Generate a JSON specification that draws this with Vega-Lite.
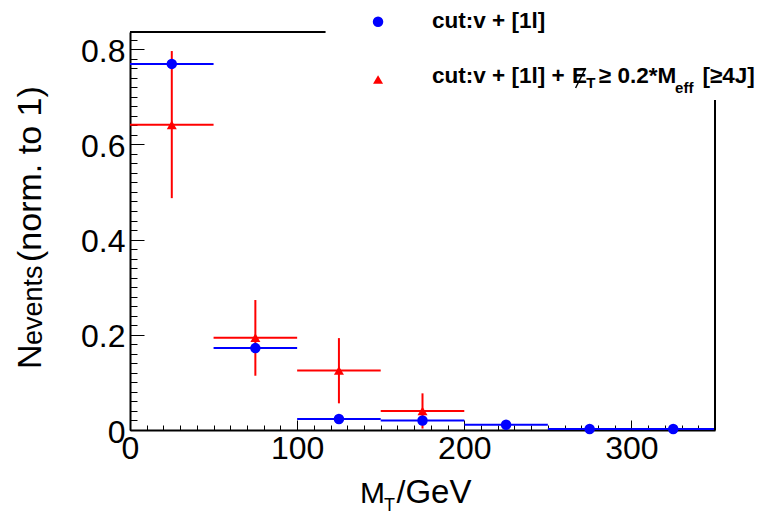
{
  "$schema": "https://vega.github.io/schema/vega-lite/v6.json",
  "width": 585,
  "height": 398,
  "autosize": {"type": "none"},
  "padding": {"left": 130, "top": 32, "right": 45, "bottom": 87},
  "background": "white",
  "config": {"view": {"stroke": null}, "font": "Liberation Sans", "axis": {"grid": false}},
  "datasets": {
    "blue": [
      {"lo": 0, "hi": 50, "mid": 25, "val": 0.769},
      {"lo": 50, "hi": 100, "mid": 75, "val": 0.172},
      {"lo": 100, "hi": 150, "mid": 125, "val": 0.023},
      {"lo": 150, "hi": 200, "mid": 175, "val": 0.020},
      {"lo": 200, "hi": 250, "mid": 225, "val": 0.011},
      {"lo": 250, "hi": 300, "mid": 275, "val": 0.002},
      {"lo": 300, "hi": 350, "mid": 325, "val": 0.002}
    ],
    "red": [
      {"lo": 0, "hi": 50, "mid": 25, "val": 0.641, "errLo": 0.487, "errHi": 0.796},
      {"lo": 50, "hi": 100, "mid": 75, "val": 0.194, "errLo": 0.114, "errHi": 0.273},
      {"lo": 100, "hi": 150, "mid": 125, "val": 0.125, "errLo": 0.056, "errHi": 0.193},
      {"lo": 150, "hi": 200, "mid": 175, "val": 0.040, "errLo": 0.003, "errHi": 0.077}
    ],
    "one": [{}]
  },
  "resolve": {"axis": {"x": "independent", "y": "independent"}},
  "layer": [
    {
      "data": {"name": "blue"},
      "mark": {"type": "rule", "color": "#0000ff", "strokeWidth": 2},
      "encoding": {
        "x": {"field": "lo", "type": "quantitative", "scale": {"domain": [0, 350], "nice": false, "zero": false},
          "axis": {"orient": "bottom", "values": [0, 100, 200, 300], "ticks": false, "domain": true, "domainColor": "black", "domainWidth": 2, "labelFontSize": 32, "labelColor": "black", "labelPadding": 3, "labelBaseline": "top", "labelFlush": false, "labelOverlap": false, "title": null}},
        "x2": {"field": "hi"},
        "y": {"field": "val", "type": "quantitative", "scale": {"domain": [0, 0.836], "nice": false, "zero": false},
          "axis": {"orient": "left", "values": [0, 0.2, 0.4, 0.6, 0.8], "format": "~g", "ticks": false, "domain": true, "domainColor": "black", "domainWidth": 2, "labelFontSize": 32, "labelColor": "black", "labelPadding": 5, "labelOffset": 2, "labelFlush": false, "labelOverlap": false, "title": null}}
      }
    },
    {
      "data": {"name": "red"},
      "mark": {"type": "rule", "color": "#ff0000", "strokeWidth": 2},
      "encoding": {
        "x": {"field": "lo", "type": "quantitative", "scale": {"domain": [0, 350], "nice": false, "zero": false},
          "axis": {"orient": "bottom", "values": [0, 100, 200, 300], "labels": false, "domain": false, "ticks": true, "tickSize": -10, "tickColor": "black", "tickWidth": 1, "title": null}},
        "x2": {"field": "hi"},
        "y": {"field": "val", "type": "quantitative", "scale": {"domain": [0, 0.836], "nice": false, "zero": false},
          "axis": {"orient": "left", "values": [0, 0.2, 0.4, 0.6, 0.8], "labels": false, "domain": false, "ticks": true, "tickSize": -14, "tickColor": "black", "tickWidth": 1, "title": null}}
      }
    },
    {
      "data": {"name": "red"},
      "mark": {"type": "rule", "color": "#ff0000", "strokeWidth": 2},
      "encoding": {
        "x": {"field": "mid", "type": "quantitative", "scale": {"domain": [0, 350], "nice": false, "zero": false},
          "axis": {"orient": "bottom", "values": [0,10,20,30,40,50,60,70,80,90,100,110,120,130,140,150,160,170,180,190,200,210,220,230,240,250,260,270,280,290,300,310,320,330,340,350], "labels": false, "domain": false, "ticks": true, "tickSize": -5, "tickColor": "black", "tickWidth": 1, "title": null}},
        "y": {"field": "errLo", "type": "quantitative", "scale": {"domain": [0, 0.836], "nice": false, "zero": false},
          "axis": {"orient": "left", "values": [0,0.02,0.04,0.06,0.08,0.1,0.12,0.14,0.16,0.18,0.2,0.22,0.24,0.26,0.28,0.3,0.32,0.34,0.36,0.38,0.4,0.42,0.44,0.46,0.48,0.5,0.52,0.54,0.56,0.58,0.6,0.62,0.64,0.66,0.68,0.7,0.72,0.74,0.76,0.78,0.8,0.82], "labels": false, "domain": false, "ticks": true, "tickSize": -7, "tickColor": "black", "tickWidth": 1, "title": null}},
        "y2": {"field": "errHi"}
      }
    },
    {
      "data": {"name": "blue"},
      "mark": {"type": "point", "shape": "circle", "filled": true, "color": "#0000ff", "size": 110, "opacity": 1},
      "encoding": {
        "x": {"field": "mid", "type": "quantitative", "scale": {"domain": [0, 350], "nice": false, "zero": false}, "axis": null},
        "y": {"field": "val", "type": "quantitative", "scale": {"domain": [0, 0.836], "nice": false, "zero": false}, "axis": null}
      }
    },
    {
      "data": {"name": "red"},
      "mark": {"type": "point", "shape": "triangle-up", "filled": true, "color": "#ff0000", "size": 100, "opacity": 1},
      "encoding": {
        "x": {"field": "mid", "type": "quantitative", "scale": {"domain": [0, 350], "nice": false, "zero": false}, "axis": null},
        "y": {"field": "val", "type": "quantitative", "scale": {"domain": [0, 0.836], "nice": false, "zero": false}, "axis": null}
      }
    },
    {
      "data": {"name": "one"},
      "mark": {"type": "rule", "color": "black", "strokeWidth": 2},
      "encoding": {
        "x": {"datum": 0, "type": "quantitative", "scale": {"domain": [0, 350], "nice": false, "zero": false}, "axis": null},
        "x2": {"datum": 117},
        "y": {"datum": 0.836, "type": "quantitative", "scale": {"domain": [0, 0.836], "nice": false, "zero": false}, "axis": null}
      }
    },
    {
      "data": {"name": "one"},
      "mark": {"type": "rule", "color": "black", "strokeWidth": 2},
      "encoding": {
        "x": {"datum": 350, "type": "quantitative", "scale": {"domain": [0, 350], "nice": false, "zero": false}, "axis": null},
        "y": {"datum": 0, "type": "quantitative", "scale": {"domain": [0, 0.836], "nice": false, "zero": false}, "axis": null},
        "y2": {"datum": 0.693}
      }
    },
    {
      "data": {"name": "one"},
      "mark": {"type": "text", "text": "M", "fontSize": 30, "align": "left", "baseline": "alphabetic", "color": "black"},
      "encoding": {
        "x": {"datum": 137.6, "type": "quantitative", "scale": {"domain": [0, 350], "nice": false, "zero": false}, "axis": null},
        "y": {"datum": -0.1533, "type": "quantitative", "scale": {"domain": [0, 0.836], "nice": false, "zero": false}, "axis": null}
      }
    },
    {
      "data": {"name": "one"},
      "mark": {"type": "text", "text": "T", "fontSize": 18, "align": "left", "baseline": "alphabetic", "color": "black"},
      "encoding": {
        "x": {"datum": 152.0, "type": "quantitative", "scale": {"domain": [0, 350], "nice": false, "zero": false}, "axis": null},
        "y": {"datum": -0.1701, "type": "quantitative", "scale": {"domain": [0, 0.836], "nice": false, "zero": false}, "axis": null}
      }
    },
    {
      "data": {"name": "one"},
      "mark": {"type": "text", "text": "/", "fontSize": 32, "align": "left", "baseline": "alphabetic", "color": "black"},
      "encoding": {
        "x": {"datum": 159.5, "type": "quantitative", "scale": {"domain": [0, 350], "nice": false, "zero": false}, "axis": null},
        "y": {"datum": -0.1533, "type": "quantitative", "scale": {"domain": [0, 0.836], "nice": false, "zero": false}, "axis": null}
      }
    },
    {
      "data": {"name": "one"},
      "mark": {"type": "text", "text": "GeV", "fontSize": 33, "align": "left", "baseline": "alphabetic", "color": "black"},
      "encoding": {
        "x": {"datum": 164.8, "type": "quantitative", "scale": {"domain": [0, 350], "nice": false, "zero": false}, "axis": null},
        "y": {"datum": -0.1533, "type": "quantitative", "scale": {"domain": [0, 0.836], "nice": false, "zero": false}, "axis": null}
      }
    },
    {
      "data": {"name": "one"},
      "mark": {"type": "text", "text": "N", "fontSize": 34, "angle": 270, "align": "left", "baseline": "alphabetic", "color": "black"},
      "encoding": {
        "x": {"datum": -53.25, "type": "quantitative", "scale": {"domain": [0, 350], "nice": false, "zero": false}, "axis": null},
        "y": {"datum": 0.1281, "type": "quantitative", "scale": {"domain": [0, 0.836], "nice": false, "zero": false}, "axis": null}
      }
    },
    {
      "data": {"name": "one"},
      "mark": {"type": "text", "text": "events", "fontSize": 27, "angle": 270, "align": "left", "baseline": "alphabetic", "color": "black"},
      "encoding": {
        "x": {"datum": -52.6, "type": "quantitative", "scale": {"domain": [0, 350], "nice": false, "zero": false}, "axis": null},
        "y": {"datum": 0.1785, "type": "quantitative", "scale": {"domain": [0, 0.836], "nice": false, "zero": false}, "axis": null}
      }
    },
    {
      "data": {"name": "one"},
      "mark": {"type": "text", "text": "(norm. to 1)", "fontSize": 34, "angle": 270, "align": "left", "baseline": "alphabetic", "color": "black"},
      "encoding": {
        "x": {"datum": -53.25, "type": "quantitative", "scale": {"domain": [0, 350], "nice": false, "zero": false}, "axis": null},
        "y": {"datum": 0.3529, "type": "quantitative", "scale": {"domain": [0, 0.836], "nice": false, "zero": false}, "axis": null}
      }
    },
    {
      "data": {"name": "one"},
      "mark": {"type": "point", "shape": "circle", "filled": true, "color": "#0000ff", "size": 110, "opacity": 1},
      "encoding": {
        "x": {"datum": 148.4, "type": "quantitative", "scale": {"domain": [0, 350], "nice": false, "zero": false}, "axis": null},
        "y": {"datum": 0.8576, "type": "quantitative", "scale": {"domain": [0, 0.836], "nice": false, "zero": false}, "axis": null}
      }
    },
    {
      "data": {"name": "one"},
      "mark": {"type": "text", "text": "cut:v + [1l]", "fontSize": 22.5, "fontWeight": "bold", "align": "left", "baseline": "alphabetic", "color": "black"},
      "encoding": {
        "x": {"datum": 180.7, "type": "quantitative", "scale": {"domain": [0, 350], "nice": false, "zero": false}, "axis": null},
        "y": {"datum": 0.8444, "type": "quantitative", "scale": {"domain": [0, 0.836], "nice": false, "zero": false}, "axis": null}
      }
    },
    {
      "data": {"name": "one"},
      "mark": {"type": "point", "shape": "triangle-up", "filled": true, "color": "#ff0000", "size": 100, "opacity": 1},
      "encoding": {
        "x": {"datum": 148.4, "type": "quantitative", "scale": {"domain": [0, 350], "nice": false, "zero": false}, "axis": null},
        "y": {"datum": 0.7362, "type": "quantitative", "scale": {"domain": [0, 0.836], "nice": false, "zero": false}, "axis": null}
      }
    },
    {
      "data": {"name": "one"},
      "mark": {"type": "text", "text": "cut:v + [1l] +", "fontSize": 22.5, "fontWeight": "bold", "align": "left", "baseline": "alphabetic", "color": "black"},
      "encoding": {
        "x": {"datum": 180.7, "type": "quantitative", "scale": {"domain": [0, 350], "nice": false, "zero": false}, "axis": null},
        "y": {"datum": 0.7299, "type": "quantitative", "scale": {"domain": [0, 0.836], "nice": false, "zero": false}, "axis": null}
      }
    },
    {
      "data": {"name": "one"},
      "mark": {"type": "text", "text": "E", "fontSize": 22.5, "fontWeight": "bold", "align": "left", "baseline": "alphabetic", "color": "black"},
      "encoding": {
        "x": {"datum": 264.5, "type": "quantitative", "scale": {"domain": [0, 350], "nice": false, "zero": false}, "axis": null},
        "y": {"datum": 0.7299, "type": "quantitative", "scale": {"domain": [0, 0.836], "nice": false, "zero": false}, "axis": null}
      }
    },
    {
      "data": {"name": "one"},
      "mark": {"type": "rule", "color": "black", "strokeWidth": 1.5},
      "encoding": {
        "x": {"datum": 266.6, "type": "quantitative", "scale": {"domain": [0, 350], "nice": false, "zero": false}, "axis": null},
        "x2": {"datum": 272.6},
        "y": {"datum": 0.7184, "type": "quantitative", "scale": {"domain": [0, 0.836], "nice": false, "zero": false}, "axis": null},
        "y2": {"datum": 0.7604}
      }
    },
    {
      "data": {"name": "one"},
      "mark": {"type": "text", "text": "T", "fontSize": 15, "fontWeight": "bold", "align": "left", "baseline": "alphabetic", "color": "black"},
      "encoding": {
        "x": {"datum": 273.0, "type": "quantitative", "scale": {"domain": [0, 350], "nice": false, "zero": false}, "axis": null},
        "y": {"datum": 0.7184, "type": "quantitative", "scale": {"domain": [0, 0.836], "nice": false, "zero": false}, "axis": null}
      }
    },
    {
      "data": {"name": "one"},
      "mark": {"type": "text", "text": "≥ 0.2*M", "fontSize": 22.5, "fontWeight": "bold", "align": "left", "baseline": "alphabetic", "color": "black"},
      "encoding": {
        "x": {"datum": 280.5, "type": "quantitative", "scale": {"domain": [0, 350], "nice": false, "zero": false}, "axis": null},
        "y": {"datum": 0.7299, "type": "quantitative", "scale": {"domain": [0, 0.836], "nice": false, "zero": false}, "axis": null}
      }
    },
    {
      "data": {"name": "one"},
      "mark": {"type": "text", "text": "eff", "fontSize": 15, "fontWeight": "bold", "align": "left", "baseline": "alphabetic", "color": "black"},
      "encoding": {
        "x": {"datum": 326.1, "type": "quantitative", "scale": {"domain": [0, 350], "nice": false, "zero": false}, "axis": null},
        "y": {"datum": 0.7079, "type": "quantitative", "scale": {"domain": [0, 0.836], "nice": false, "zero": false}, "axis": null}
      }
    },
    {
      "data": {"name": "one"},
      "mark": {"type": "text", "text": "[≥4J]", "fontSize": 22.5, "fontWeight": "bold", "align": "left", "baseline": "alphabetic", "color": "black"},
      "encoding": {
        "x": {"datum": 342.5, "type": "quantitative", "scale": {"domain": [0, 350], "nice": false, "zero": false}, "axis": null},
        "y": {"datum": 0.7299, "type": "quantitative", "scale": {"domain": [0, 0.836], "nice": false, "zero": false}, "axis": null}
      }
    }
  ]
}
